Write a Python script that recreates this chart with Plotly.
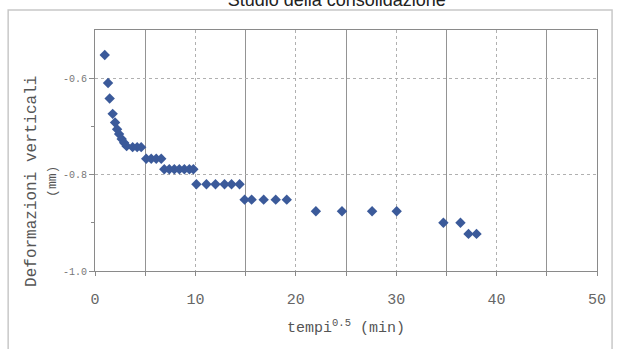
import plotly.graph_objects as go

# sqrt(time) [min^0.5] and vertical deformation [mm]
tempi = [0.97, 1.3, 1.46, 1.76, 2.0, 2.2, 2.4, 2.66, 2.9, 3.15,
         3.75, 4.2, 4.6,
         5.1, 5.6, 6.1, 6.6,
         6.9, 7.4, 7.9, 8.4, 8.9, 9.4, 9.8,
         10.1, 11.1, 12.0, 12.9, 13.6, 14.4,
         14.9, 15.6, 16.8, 18.0, 19.1,
         22.0, 24.6, 27.6, 30.05,
         34.7, 36.4, 37.2, 38.0]
deformazioni = [-0.552, -0.610, -0.642, -0.674, -0.692, -0.706, -0.716, -0.726, -0.734, -0.741,
                -0.743, -0.743, -0.743,
                -0.767, -0.767, -0.767, -0.767,
                -0.789, -0.789, -0.789, -0.789, -0.789, -0.789, -0.789,
                -0.820, -0.820, -0.820, -0.820, -0.820, -0.820,
                -0.852, -0.852, -0.852, -0.852, -0.852,
                -0.876, -0.876, -0.876, -0.876,
                -0.900, -0.900, -0.923, -0.923]

MONO = "Liberation Mono, Courier New, monospace"

fig = go.Figure()

fig.add_trace(go.Scatter(
    x=tempi,
    y=deformazioni,
    mode="markers",
    marker=dict(symbol="diamond", size=8, color="#3b5a9a"),
    showlegend=False
))

# ====================================
# LAYOUT
# ====================================

fig.update_layout(
    width=618,
    height=349,
    paper_bgcolor="white",
    plot_bgcolor="white",
    margin=dict(l=95, r=21, t=30, b=78),
    title=dict(
        text="Studio della consolidazione",
        x=0.545,
        xanchor="center",
        y=1.0,
        yanchor="middle",
        font=dict(family="Liberation Sans, Arial, sans-serif", size=18, color="#222222")
    ),
    xaxis=dict(
        range=[0, 50],
        dtick=10,
        showline=True,
        linecolor="#8a8a8a",
        linewidth=1,
        mirror=True,
        ticks="outside",
        ticklen=4,
        tickcolor="#8a8a8a",
        showgrid=True,
        gridcolor="#b0b0b0",
        griddash="dot",
        zeroline=False,
        minor=dict(tick0=5, dtick=10, showgrid=True, gridcolor="#949494",
                   griddash="solid", ticks="outside", ticklen=4, tickcolor="#8a8a8a"),
        tickfont=dict(family=MONO, size=15, color="#666666"),
        ticklabelstandoff=10,
        title=dict(
            text="tempi<sup>0.5</sup> (min)",
            font=dict(family=MONO, size=15, color="#555555"),
            standoff=13
        )
    ),
    yaxis=dict(
        range=[-1.0, -0.5],
        tickvals=[-1.0, -0.8, -0.6],
        ticktext=["-1.0", "-0.8", "-0.6"],
        showline=True,
        linecolor="#8a8a8a",
        linewidth=1,
        mirror=True,
        ticks="outside",
        ticklen=5,
        tickcolor="#8a8a8a",
        showgrid=True,
        gridcolor="#b0b0b0",
        griddash="dot",
        zeroline=False,
        minor=dict(tickvals=[-0.9, -0.7], ticks="outside", ticklen=3,
                   tickcolor="#8a8a8a", showgrid=False),
        tickfont=dict(family=MONO, size=10, color="#777777"),
        ticklabelstandoff=0
    ),
    annotations=[dict(
        text="Deformazioni verticali<br><span style='font-size:13px'>(mm)</span>",
        xref="paper", yref="paper",
        x=-0.106, y=0.373,
        xanchor="center", yanchor="middle",
        textangle=-90,
        showarrow=False,
        font=dict(family=MONO, size=16, color="#555555")
    )],
    shapes=[dict(
        type="rect",
        xref="paper", yref="paper",
        x0=-0.173, x1=1.03, y0=-0.4, y1=1.083,
        line=dict(color="#c8c8c8", width=1.5),
        layer="below"
    )]
)

# page body margin would shift the whole chart by 8px
fig.write_html(
    "out.html",
    config={"displayModeBar": False},
    post_script="document.body.style.margin='0';"
)
